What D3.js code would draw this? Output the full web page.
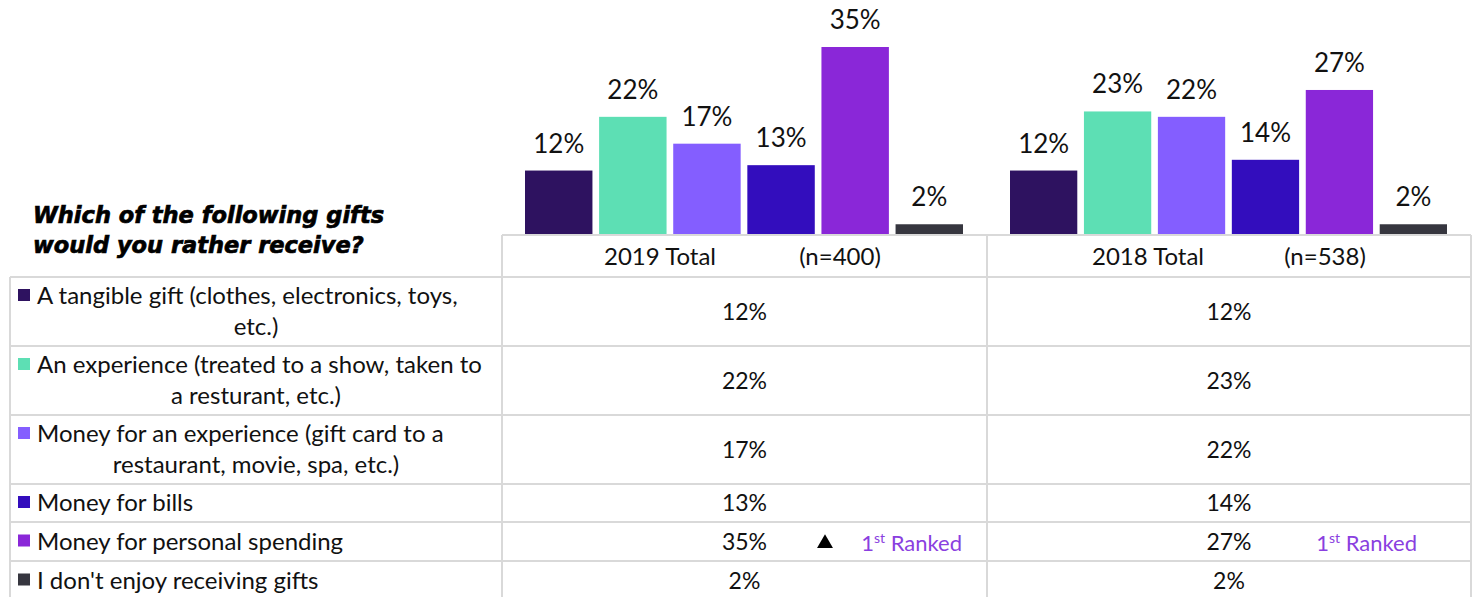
<!DOCTYPE html>
<html>
<head>
<meta charset="utf-8">
<script src="https://cdn.jsdelivr.net/npm/d3@7"></script>
<style>
  body { margin: 0; background: #fff; }
  svg { display: block; font-family: Lato, "Open Sans", sans-serif; }
  .grid { stroke: #d9d9d9; stroke-width: 2; }
</style>
</head>
<body>
<div id="chart"></div>
<script>
// ---- data ----
const categories = [
  "A tangible gift (clothes, electronics, toys, etc.)",
  "An experience (treated to a show, taken to a resturant, etc.)",
  "Money for an experience (gift card to a restaurant, movie, spa, etc.)",
  "Money for bills",
  "Money for personal spending",
  "I don't enjoy receiving gifts"
];
const colors = ["#2e1260", "#5ddfb4", "#845eff", "#330dbd", "#8a27d8", "#36363f"];
const groups = ["2019 Total", "2018 Total"];
const sampleSizes = ["(n=400)", "(n=538)"];
const values2019 = [12, 22, 17, 13, 35, 2];
const values2018 = [12, 23, 22, 14, 27, 2];
const rankedIndex = [4, 4];
const title = ["Which of the following gifts", "would you rather receive?"];

// ---- layout ----
const W = 1473, H = 597;
const colX = [10, 502, 987, 1471];
const headTop = 235;
const rowY = [277, 346, 415, 484, 522, 561, 600];
const FS = 24;

const svg = d3.select("#chart").append("svg").attr("width", W).attr("height", H);

const y = d3.scaleLinear().domain([0, 35]).range([headTop, 47]);
const allValues = [values2019, values2018];

groups.forEach((g, gi) => {
  const x0 = colX[gi + 1], x1 = colX[gi + 2];
  const x = d3.scaleBand().domain(d3.range(categories.length))
    .range([x0 + 23, x1 - 24]).paddingInner(0.09);
  const gg = svg.append("g");
  gg.selectAll("rect").data(allValues[gi]).join("rect")
    .attr("x", (d, i) => x(i))
    .attr("width", x.bandwidth())
    .attr("y", d => y(d))
    .attr("height", d => headTop - y(d))
    .attr("fill", (d, i) => colors[i]);
  gg.selectAll("text").data(allValues[gi]).join("text")
    .attr("x", (d, i) => x(i) + x.bandwidth() / 2)
    .attr("y", d => y(d) - 18)
    .attr("text-anchor", "middle")
    .attr("font-size", 26)
    .attr("fill", "#111")
    .text(d => d + "%");
});

// ---- table grid ----
const grid = svg.append("g");
grid.append("line").attr("class", "grid").attr("x1", colX[1]).attr("x2", colX[3]).attr("y1", headTop).attr("y2", headTop);
rowY.slice(0, -1).forEach(yy => {
  grid.append("line").attr("class", "grid").attr("x1", colX[0]).attr("x2", colX[3]).attr("y1", yy).attr("y2", yy);
});
colX.forEach((xx, i) => {
  grid.append("line").attr("class", "grid").attr("x1", xx).attr("x2", xx)
    .attr("y1", i === 0 ? rowY[0] : headTop).attr("y2", H);
});

// header text
const headOff = [[158, 338], [161, 338]];
groups.forEach((g, gi) => {
  const x0 = colX[gi + 1];
  const cy = (headTop + rowY[0]) / 2 + 9;
  svg.append("text").attr("x", x0 + headOff[gi][0]).attr("y", cy)
    .attr("text-anchor", "middle").attr("font-size", FS).attr("fill", "#111").text(g);
  svg.append("text").attr("x", x0 + headOff[gi][1]).attr("y", cy)
    .attr("text-anchor", "middle").attr("font-size", FS).attr("fill", "#111").text(sampleSizes[gi]);
});

// title
svg.append("g").selectAll("text").data(title).join("text")
  .attr("x", 33).attr("y", (d, i) => 223 + i * 30)
  .attr("font-family", "'DejaVu Sans', sans-serif")
  .attr("font-size", 22.5).attr("font-weight", 700).attr("font-style", "italic")
  .attr("fill", "#000").attr("stroke", "#000").attr("stroke-width", 0.7)
  .text(d => d);

// category labels: first line left-aligned after the swatch, continuation centred
const textX = 37;
const labelW = colX[1] - textX - 6;
const lh = 31;
categories.forEach((c, i) => {
  const top = rowY[i], bot = rowY[i + 1];
  const cx = (colX[0] + colX[1]) / 2;
  const words = c.split(" ");
  const lines = [];
  let line = [];
  const probe = svg.append("text").attr("font-size", FS);
  words.forEach(w => {
    probe.text(line.concat(w).join(" "));
    const maxW = lines.length ? colX[1] - colX[0] - 20 : labelW;
    if (probe.node().getComputedTextLength() > maxW && line.length) {
      lines.push(line.join(" "));
      line = [w];
    } else line.push(w);
  });
  lines.push(line.join(" "));
  probe.remove();
  const mid = (top + bot) / 2;
  const y0 = mid - (lines.length - 1) * lh / 2 + 8;
  lines.forEach((l, li) => {
    svg.append("text").attr("font-size", FS).attr("fill", "#111")
      .attr("text-anchor", li === 0 ? "start" : "middle")
      .attr("x", li === 0 ? textX : cx).attr("y", y0 + li * lh)
      .text(l);
  });
  svg.append("rect").attr("x", 18).attr("y", y0 - 15)
    .attr("width", 12).attr("height", 12).attr("fill", colors[i]);
});

// table values
allValues.forEach((vals, gi) => {
  const cx = (colX[gi + 1] + colX[gi + 2]) / 2;
  svg.append("g").selectAll("text").data(vals).join("text")
    .attr("x", cx)
    .attr("y", (d, i) => (rowY[i] + rowY[i + 1]) / 2 + 8)
    .attr("text-anchor", "middle").attr("font-size", 23).attr("fill", "#111")
    .text(d => d + "%");
});

// ranking annotations
const rankRight = [colX[2] - 25, colX[3] - 54];
rankedIndex.forEach((ri, gi) => {
  const cy = (rowY[ri] + rowY[ri + 1]) / 2 + 9;
  const t = svg.append("text").attr("x", rankRight[gi]).attr("y", cy)
    .attr("text-anchor", "end").attr("font-size", 22).attr("fill", "#8a3fe0");
  t.append("tspan").text("1");
  t.append("tspan").attr("font-size", 14).attr("dy", -8).text("st");
  t.append("tspan").attr("dy", 8).text(" Ranked");
});
// significance triangle (2019 vs 2018)
svg.append("path")
  .attr("d", d3.symbol(d3.symbolTriangle, 110)())
  .attr("transform", `translate(825,${(rowY[4] + rowY[5]) / 2 + 2})`)
  .attr("fill", "#000");
</script>
</body>
</html>
